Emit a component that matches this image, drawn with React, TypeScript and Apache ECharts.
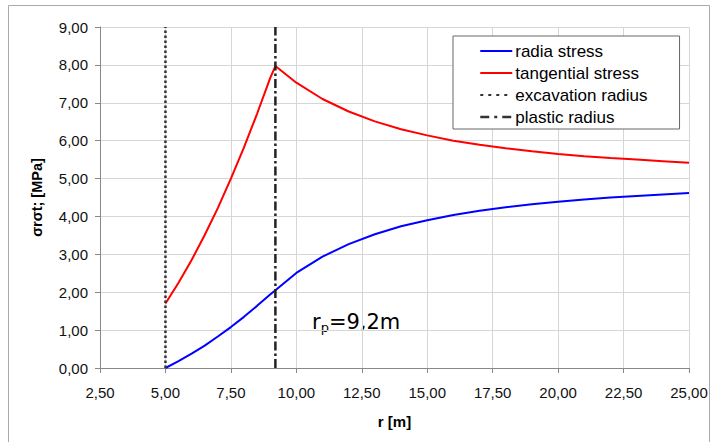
import React, { useEffect, useRef } from "react";
import * as echarts from "echarts";

const radius = [5, 5.5, 6, 6.5, 7, 7.5, 8, 8.5, 9, 9.2, 10, 11, 12, 13, 14, 15, 16, 17, 18, 19, 20, 21, 22, 23, 24, 25];
const radialStress = [0, 0.18, 0.38, 0.59, 0.83, 1.08, 1.35, 1.64, 1.94, 2.05, 2.51, 2.94, 3.27, 3.53, 3.74, 3.9, 4.04, 4.15, 4.24, 4.32, 4.39, 4.45, 4.5, 4.54, 4.58, 4.62];
const tangentialStress = [1.7, 2.25, 2.85, 3.51, 4.22, 5.0, 5.82, 6.71, 7.65, 7.97, 7.53, 7.1, 6.77, 6.51, 6.3, 6.14, 6.0, 5.89, 5.8, 5.72, 5.65, 5.59, 5.54, 5.5, 5.46, 5.42];
const excavationRadius = 5;
const plasticRadius = 9.2;
const yRange = [0, 9];

const FONT = "'Liberation Sans', Arial, sans-serif";
const DV = "'DejaVu Sans', Verdana, sans-serif";

export default function App() {
  const ref = useRef<HTMLDivElement>(null);
  useEffect(() => {
    if (!ref.current) return;
    const chart = echarts.init(ref.current, null, { renderer: "svg" });
    const fmt = (v: number) => v.toFixed(2).replace(".", ",");
    chart.setOption({
      animation: false,
      backgroundColor: "#ffffff",
      textStyle: { fontFamily: FONT },
      grid: { left: 100, top: 27, right: 23, bottom: 74 },
      xAxis: {
        type: "value",
        min: 2.5,
        max: 25,
        interval: 2.5,
        name: "r [m]",
        nameLocation: "middle",
        nameGap: 46,
        nameTextStyle: { fontSize: 15, fontWeight: "bold", color: "#000", fontFamily: FONT },
        axisLine: { show: true, lineStyle: { color: "#888", width: 1 } },
        axisTick: { show: true, length: 5, lineStyle: { color: "#888" } },
        axisLabel: { formatter: fmt, fontSize: 15, color: "#111", margin: 17, fontFamily: FONT },
        splitLine: { show: true, lineStyle: { color: "#d6d6d6", width: 1 } },
      },
      yAxis: {
        type: "value",
        min: yRange[0],
        max: yRange[1],
        interval: 1,
        name: "σrσt; [MPa]",
        nameLocation: "middle",
        nameGap: 56,
        nameRotate: 90,
        nameTextStyle: { fontSize: 14.5, fontWeight: "bold", color: "#000", fontFamily: FONT },
        axisLine: { show: true, lineStyle: { color: "#888", width: 1 } },
        axisTick: { show: true, length: 5, lineStyle: { color: "#888" } },
        axisLabel: { formatter: fmt, fontSize: 15, color: "#111", margin: 12, fontFamily: FONT },
        splitLine: { show: true, lineStyle: { color: "#d6d6d6", width: 1 } },
      },
      legend: {
        orient: "vertical",
        left: 453,
        top: 36,
        width: 220,
        backgroundColor: "#ffffff",
        borderColor: "#666",
        borderWidth: 1,
        borderRadius: 0,
        padding: [6, 32, 3, 26],
        itemWidth: 32,
        itemHeight: 13,
        itemGap: 4,
        itemStyle: { opacity: 0, color: "transparent", borderWidth: 0 },
        textStyle: { fontSize: 17, lineHeight: 18, color: "#000", fontFamily: FONT, padding: [0, 0, 0, -2] },
        data: [
          { name: "radia stress", lineStyle: { width: 2 } },
          { name: "tangential stress", lineStyle: { width: 2 } },
          { name: "excavation radius", lineStyle: { width: 2, type: [3, 5], color: "#333" } },
          { name: "plastic radius", lineStyle: { width: 2.5, type: [9, 5, 3, 5], color: "#333" } },
        ],
      },
      series: [
        {
          name: "radia stress",
          type: "line",
          symbol: "none",
          data: radius.map((r, i) => [r, radialStress[i]]),
          lineStyle: { color: "#0000ff", width: 2 },
          itemStyle: { color: "#0000ff" },
        },
        {
          name: "tangential stress",
          type: "line",
          symbol: "none",
          data: radius.map((r, i) => [r, tangentialStress[i]]),
          lineStyle: { color: "#ff0000", width: 2 },
          itemStyle: { color: "#ff0000" },
        },
        {
          name: "excavation radius",
          type: "line",
          symbol: "none",
          data: [
            [excavationRadius, yRange[0]],
            [excavationRadius, yRange[1]],
          ],
          lineStyle: { color: "#333", width: 2.5, type: [2.5, 2.5] },
          itemStyle: { color: "#333" },
        },
        {
          name: "plastic radius",
          type: "line",
          symbol: "none",
          data: [
            [plasticRadius, yRange[0]],
            [plasticRadius, yRange[1]],
          ],
          lineStyle: { color: "#222", width: 2.5, type: [9, 3, 2.5, 3] },
          itemStyle: { color: "#222" },
        },
      ],
      graphic: [
        {
          type: "rect",
          shape: { x: 8.5, y: 5.5, width: 701, height: 460 },
          style: { fill: "none", stroke: "#aaa", lineWidth: 1 },
          silent: true,
          z: -10,
        },
        {
          type: "text",
          left: 312,
          top: 311,
          style: {
            text: "{a|r}{s|p}{a|=9,2m}",
            rich: {
              a: { fontSize: 21, fontFamily: DV, fill: "#000" },
              s: { fontSize: 13, fontFamily: DV, fill: "#000", padding: [12, 0, 0, 0] },
            },
          },
        },
      ],
    });
    return () => chart.dispose();
  }, []);
  return <div ref={ref} style={{ position: "absolute", left: 0, top: 0, width: 712, height: 442 }} />;
}
